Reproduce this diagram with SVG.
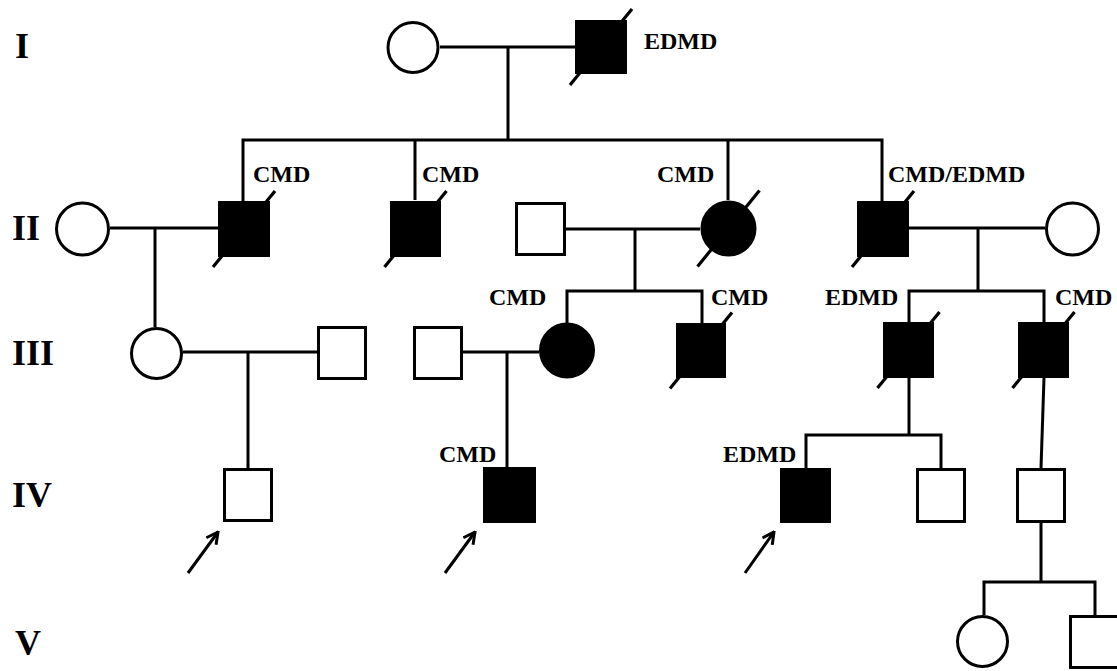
<svg xmlns="http://www.w3.org/2000/svg" width="1117" height="671" viewBox="0 0 1117 671">
<style>
.o{fill:#fff;stroke:#000;stroke-width:3}
.a{fill:#000;stroke:#000;stroke-width:3}
.l{fill:none;stroke:#000;stroke-width:3}
.s{stroke:#000;stroke-width:3.2}
.g{font-family:"Liberation Serif","Times New Roman",serif;font-weight:bold;font-size:36px;fill:#000}
.t{font-family:"Liberation Serif","Times New Roman",serif;font-weight:bold;font-size:24px;fill:#000}
</style>
<defs>
<marker id="ah" markerUnits="userSpaceOnUse" viewBox="0 0 14 14" markerWidth="14" markerHeight="14" refX="12.5" refY="7" orient="auto">
<path d="M1,1 L12.5,7 L1,13" fill="none" stroke="#000" stroke-width="3"/>
</marker>
</defs>
<rect width="1117" height="671" fill="#fff"/>
<g id="generations">
<text class="g" x="15" y="58">I</text>
<text class="g" x="12" y="240">II</text>
<text class="g" x="12" y="365">III</text>
<text class="g" x="12" y="507">IV</text>
<text class="g" x="15" y="655">V</text>
</g>
<g id="connectors">
<path class="l" d="M440,47 H575 M508,47 V140"/>
<path class="l" d="M243,201 V140 H882 V201 M415,140 V200 M728,140 V200"/>
<path class="l" d="M110,228 H218 M155,228 V327"/>
<path class="l" d="M566,229 H700 M635,229 V291 M567,323 V291 H702 V323"/>
<path class="l" d="M909,228 H1045 M978,228 V291 M909,322 V291 H1044 V322"/>
<path class="l" d="M183,352 H317 M248,352 V468"/>
<path class="l" d="M463,352 H539 M507,352 V467"/>
<path class="l" d="M909,378 V435 M806,468 V435 H941 V468"/>
<path class="l" d="M1044,378 L1041,468"/>
<path class="l" d="M1041,523 V582 M984,615 V582 H1095 V615"/>
</g>
<g id="I-1"><circle class="o" cx="413" cy="47.5" r="25"/></g>
<g id="I-2"><rect class="a" x="576.5" y="21.5" width="49" height="51"/><line class="s" x1="570" y1="85" x2="632" y2="9"/><text class="t" x="644" y="49">EDMD</text></g>
<g id="II-1"><circle class="o" cx="82.5" cy="229" r="26"/></g>
<g id="II-2"><rect class="a" x="219.5" y="202.5" width="49" height="53"/><line class="s" x1="213" y1="267" x2="275" y2="191"/><text class="t" x="253" y="182">CMD</text></g>
<g id="II-3"><rect class="a" x="391.5" y="202.5" width="48" height="53"/><line class="s" x1="384.5" y1="267" x2="446.5" y2="191"/><text class="t" x="422" y="182">CMD</text></g>
<g id="II-4"><rect class="o" x="516.5" y="203.5" width="48" height="51"/></g>
<g id="II-5"><circle class="a" cx="728.5" cy="228.5" r="26.5"/><line class="s" x1="697.5" y1="266.5" x2="759.5" y2="190.5"/><text class="t" x="657" y="182">CMD</text></g>
<g id="II-6"><rect class="a" x="858.5" y="202.5" width="49" height="53"/><line class="s" x1="852" y1="267" x2="914" y2="191"/><text class="t" x="888" y="182">CMD/EDMD</text></g>
<g id="II-7"><circle class="o" cx="1072.5" cy="229" r="26"/></g>
<g id="III-1"><circle class="o" cx="156.5" cy="353.5" r="25"/></g>
<g id="III-2"><rect class="o" x="318.5" y="327.5" width="47" height="51"/></g>
<g id="III-3"><rect class="o" x="414.5" y="327.5" width="47" height="51"/></g>
<g id="III-4"><circle class="a" cx="567" cy="350.5" r="26.5"/><text class="t" x="489" y="305">CMD</text></g>
<g id="III-5"><rect class="a" x="677.5" y="324.5" width="47" height="52"/><line class="s" x1="670" y1="388.5" x2="732" y2="312.5"/><text class="t" x="711" y="305">CMD</text></g>
<g id="III-6"><rect class="a" x="884.5" y="323.5" width="48" height="53"/><line class="s" x1="877.5" y1="388" x2="939.5" y2="312"/><text class="t" x="825" y="305">EDMD</text></g>
<g id="III-7"><rect class="a" x="1019.5" y="323.5" width="48" height="53"/><line class="s" x1="1012.5" y1="388" x2="1074.5" y2="312"/><text class="t" x="1055" y="305">CMD</text></g>
<g id="IV-1"><rect class="o" x="224.5" y="469.5" width="47" height="51"/><line class="l" x1="188" y1="573" x2="218" y2="532" marker-end="url(#ah)"/></g>
<g id="IV-2"><rect class="a" x="484.5" y="468.5" width="50" height="53"/><text class="t" x="439" y="462">CMD</text><line class="l" x1="445" y1="573" x2="475" y2="532" marker-end="url(#ah)"/></g>
<g id="IV-3"><rect class="a" x="781.5" y="469.5" width="48" height="52"/><text class="t" x="723" y="462">EDMD</text><line class="l" x1="745" y1="573" x2="774" y2="532" marker-end="url(#ah)"/></g>
<g id="IV-4"><rect class="o" x="917.5" y="469.5" width="47" height="52"/></g>
<g id="IV-5"><rect class="o" x="1017.5" y="469.5" width="47" height="52"/></g>
<g id="V-1"><circle class="o" cx="982.5" cy="641.5" r="25"/></g>
<g id="V-2"><rect class="o" x="1070.5" y="616.5" width="49" height="51"/></g>
</svg>
